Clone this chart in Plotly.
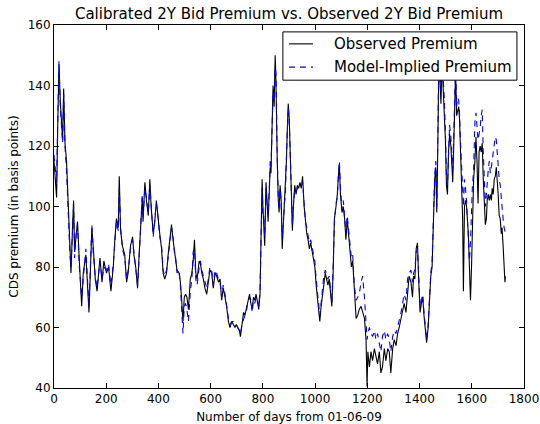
import plotly.graph_objects as go

days = [0, 5, 10, 14, 19, 24, 29, 33, 37, 42, 48, 55, 61, 65, 71, 75, 79, 84, 90, 97,
        106, 112, 122, 134, 145, 150, 158, 165, 176, 184, 191, 201, 209, 218, 227, 233, 239, 246, 250, 255,
        262, 271, 278, 284, 293, 301, 306, 313, 320, 326, 332, 338, 341, 348, 354, 361, 367, 372, 380, 386,
        392, 399, 405, 412, 418, 424, 431, 437, 444, 450, 456, 463, 466, 471, 479, 484, 489, 494, 499, 504,
        509, 515, 522, 528, 533, 538, 543, 548, 556, 561, 566, 572, 578, 585, 591, 597, 604, 610, 617, 623,
        630, 636, 642, 648, 655, 661, 668, 674, 681, 687, 693, 698, 704, 710, 714, 720, 726, 731, 736, 742,
        749, 754, 759, 764, 769, 774, 780, 784, 789, 793, 797, 800, 803, 807, 812, 816, 820, 824, 828, 831,
        835, 839, 843, 847, 850, 852, 855, 859, 862, 866, 870, 874, 878, 882, 886, 890, 893, 897, 901, 905,
        909, 913, 917, 922, 927, 932, 937, 942, 947, 952, 958, 963, 968, 973, 978, 983, 988, 993, 999, 1004,
        1009, 1014, 1018, 1023, 1028, 1033, 1039, 1044, 1049, 1054, 1059, 1064, 1069, 1074, 1080, 1085, 1090, 1093, 1097, 1103,
        1108, 1113, 1118, 1123, 1128, 1133, 1139, 1144, 1150, 1157, 1163, 1169, 1176, 1182, 1189, 1195, 1199, 1202, 1208, 1214,
        1220, 1227, 1233, 1239, 1246, 1252, 1258, 1265, 1271, 1278, 1284, 1290, 1297, 1303, 1310, 1316, 1322, 1329, 1335, 1341,
        1348, 1354, 1360, 1367, 1373, 1377, 1382, 1387, 1392, 1397, 1402, 1407, 1412, 1417, 1422, 1427, 1433, 1438, 1443, 1448,
        1453, 1458, 1462, 1466, 1470, 1474, 1478, 1482, 1486, 1490, 1494, 1499, 1503, 1507, 1511, 1515, 1520, 1523, 1527, 1531,
        1535, 1538, 1542, 1546, 1550, 1553, 1557, 1561, 1565, 1568, 1572, 1576, 1580, 1583, 1587, 1591, 1595, 1599, 1602, 1607,
        1612, 1616, 1620, 1624, 1628, 1632, 1636, 1640, 1644, 1648, 1652, 1656, 1659, 1663, 1667, 1671, 1675, 1678, 1682, 1686,
        1690, 1694, 1697, 1701, 1705, 1709, 1713, 1716, 1720, 1724, 1727, 1729]

observed = [115, 110, 103, 125, 147, 135, 126, 122, 139, 121, 115, 98, 87, 78, 93, 102, 85, 89, 95, 82,
            67, 78, 84, 65, 93, 87, 76, 72, 83, 75, 82, 78, 80, 72, 80, 89, 96, 93, 110, 92,
            87, 84, 75, 78, 87, 90, 84, 80, 73, 84, 93, 103, 95, 108, 102, 97, 109, 100, 91, 95,
            102, 95, 91, 86, 78, 76, 78, 84, 89, 94, 89, 84, 82, 79, 78, 75, 69, 62, 70, 71,
            70, 66, 76, 78, 82, 89, 78, 76, 82, 81, 78, 76, 73, 71, 75, 79, 78, 73, 78, 77,
            75, 76, 69, 73, 70, 67, 62, 60, 62, 61, 60, 61, 60, 59, 57, 61, 65, 64, 66, 69,
            71, 68, 66, 70, 69, 71, 68, 66, 71, 90, 109, 100, 95, 87, 108, 100, 95, 104, 113, 111,
            129, 140, 133, 150, 142, 126, 115, 102, 98, 107, 102, 86, 93, 100, 104, 115, 124, 134, 129, 118,
            105, 92, 100, 107, 104, 107, 106, 108, 106, 110, 100, 94, 91, 89, 86, 88, 85, 82, 80, 74,
            69, 65, 62, 67, 71, 75, 78, 76, 74, 76, 70, 67, 78, 96, 100, 104, 111, 114, 104, 98,
            100, 96, 89, 96, 91, 85, 80, 82, 72, 63, 64, 66, 67, 65, 63, 56, 40.5, 52, 47, 52,
            49, 53, 50, 48, 52, 45, 47, 53, 49, 53, 52, 45, 53, 56, 54, 58, 60, 63, 65, 68,
            65, 72, 77, 75, 70, 77, 76, 86, 88, 75, 65, 68, 70, 64, 58, 55, 60, 69, 77, 80,
            96, 109, 113, 98, 120, 148, 142, 134, 148, 141, 135, 122, 107, 104, 118, 124, 120, 115, 108, 120,
            134, 145, 130, 132, 133, 129, 118, 104, 96, 72, 100, 102, 100, 96, 91, 80, 69, 80, 95, 109,
            115, 123, 115, 101, 118, 120, 118, 121, 109, 100, 94, 96, 102, 104, 102, 104, 102, 106, 104, 109,
            110, 113, 110, 104, 97, 96, 91, 93, 87, 80, 75, 77]

model = [117, 112, 108, 128, 148, 133, 124, 121, 137, 120, 112, 95, 84, 80, 95, 100, 83, 90, 94, 80,
         70, 77, 86, 67, 94, 85, 77, 73, 82, 76, 80, 79, 81, 74, 81, 88, 95, 92, 106, 93,
         86, 83, 76, 79, 86, 89, 85, 79, 74, 83, 94, 104, 96, 106, 103, 98, 107, 101, 90, 96,
         101, 96, 90, 87, 79, 77, 79, 83, 88, 93, 90, 83, 83, 78, 79, 74, 66, 58, 67, 68,
         66, 62, 72, 76, 85, 86, 76, 74, 80, 82, 79, 77, 75, 73, 76, 80, 79, 74, 79, 78,
         76, 75, 70, 74, 71, 67, 63, 61, 62, 62, 61, 61, 60, 59, 58, 61, 63, 64, 65, 68,
         70, 69, 65, 69, 68, 70, 69, 67, 72, 92, 106, 98, 96, 90, 106, 101, 97, 105, 115, 113,
         132, 138, 135, 146, 144, 128, 116, 103, 99, 106, 101, 90, 94, 101, 103, 116, 122, 133, 128, 116,
         104, 94, 101, 106, 105, 106, 107, 107, 107, 108, 101, 95, 93, 90, 88, 89, 87, 84, 82, 76,
         71, 66, 64, 68, 72, 77, 79, 77, 76, 77, 72, 68, 80, 95, 101, 103, 112, 115, 106, 99,
         102, 97, 91, 97, 93, 88, 83, 84, 74, 69, 70, 71, 75, 77, 70, 62, 56, 58, 60, 58,
         57, 59, 56, 58, 55, 52, 57, 59, 56, 58, 56, 52, 57, 59, 58, 60, 63, 65, 68, 71,
         69, 76, 78, 79, 75, 78, 79, 85, 86, 77, 67, 69, 71, 65, 59, 56, 61, 70, 78, 82,
         98, 110, 115, 100, 124, 150, 146, 138, 150, 144, 137, 125, 110, 107, 120, 127, 123, 118, 112, 124,
         138, 146, 133, 136, 135, 131, 121, 110, 106, 100, 109, 106, 102, 96, 90, 82, 88, 100, 106, 112,
         128, 131, 125, 122, 124, 126, 130, 132, 118, 107, 100, 104, 109, 112, 115, 111, 113, 115, 118, 120,
         123, 122, 118, 113, 109, 107, 102, 98, 96, 93, 92, 91]

x_ticks = [0, 200, 400, 600, 800, 1000, 1200, 1400, 1600, 1800]
y_ticks = [40, 60, 80, 100, 120, 140, 160]
series_names = ["Observed Premium", "Model-Implied Premium"]

FONT = "DejaVu Sans"
BLACK = "black"
BLUE = "#0000ff"
DASH = "6px,5px"

fig = go.Figure()
fig.add_trace(go.Scatter(x=days, y=observed, mode="lines", name=series_names[0],
                         line=dict(color=BLACK, width=1.1), showlegend=False))
fig.add_trace(go.Scatter(x=days, y=model, mode="lines", name=series_names[1],
                         line=dict(color=BLUE, width=1.1, dash=DASH), showlegend=False))

axis_common = dict(showline=True, linecolor="black", linewidth=1, mirror="ticks",
                   ticks="inside", ticklen=5, tickcolor="black", showgrid=False,
                   zeroline=False, automargin=False,
                   tickfont=dict(family=FONT, size=12, color="black"))

# legend box drawn in the matplotlib style (paper coordinates of the plot area)
lx0, lx1, ly0, ly1 = 0.487, 0.985, 0.848, 0.981
row_y = [0.948, 0.884]
shapes = [dict(type="rect", xref="paper", yref="paper", x0=lx0, x1=lx1, y0=ly0, y1=ly1,
               line=dict(color="black", width=1), fillcolor="white", layer="above")]
annotations = []
for name, color, dash, ry in zip(series_names, [BLACK, BLUE], ["solid", DASH], row_y):
    shapes.append(dict(type="line", xref="paper", yref="paper", x0=0.500, x1=0.551,
                       y0=ry, y1=ry, line=dict(color=color, width=1.1, dash=dash), layer="above"))
    annotations.append(dict(text=name, xref="paper", yref="paper", x=0.591, y=ry,
                            xanchor="left", yanchor="middle", showarrow=False,
                            font=dict(family=FONT, size=15, color="black")))

fig.update_layout(
    width=540, height=424,
    margin=dict(l=54, r=16, t=25, b=36),
    paper_bgcolor="white", plot_bgcolor="white",
    title=dict(text="Calibrated 2Y Bid Premium vs. Observed 2Y Bid Premium",
               font=dict(family=FONT, size=15, color="black"),
               x=0.5, xref="paper", xanchor="center", y=0.967, yanchor="middle"),
    xaxis=dict(range=[0, 1800], tickvals=x_ticks,
               title=dict(text="Number of days from 01-06-09", standoff=9,
                          font=dict(family=FONT, size=12, color="black")),
               **axis_common),
    yaxis=dict(range=[40, 160], tickvals=y_ticks,
               title=dict(text="CDS premium (in basis points)", standoff=6,
                          font=dict(family=FONT, size=12, color="black")),
               **axis_common),
    shapes=shapes,
    annotations=annotations,
    showlegend=False,
)

# the page body has a default 8px margin; remove it so the 540x424 figure fills the window
fig.write_html("out.html", config={"displayModeBar": False},
               post_script="document.body.style.margin='0';")
